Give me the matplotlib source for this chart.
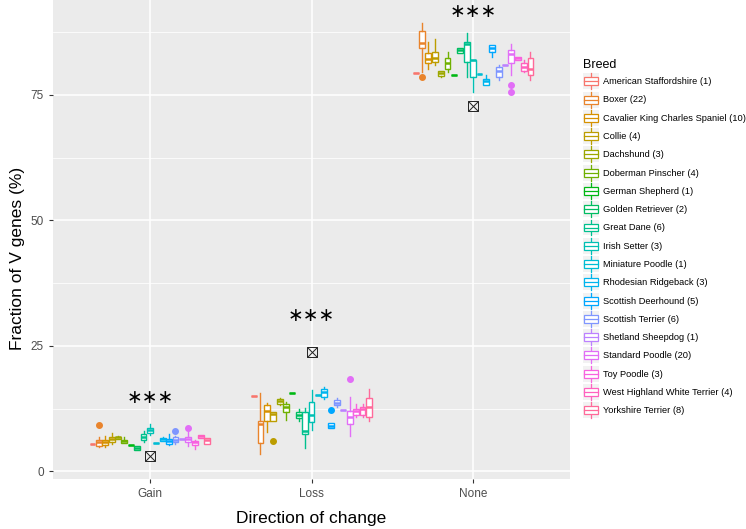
import numpy as np
import matplotlib
matplotlib.use("Agg")
import matplotlib.pyplot as plt
from matplotlib.patches import Patch, Rectangle
from matplotlib.lines import Line2D
from matplotlib.legend_handler import HandlerBase

plt.rcParams['font.family'] = ['Liberation Sans', 'DejaVu Sans']

# data
directions = ['Gain', 'Loss', 'None']
breeds = ['American Staffordshire (1)', 'Boxer (22)', 'Cavalier King Charles Spaniel (10)',
          'Collie (4)', 'Dachshund (3)', 'Doberman Pinscher (4)', 'German Shepherd (1)',
          'Golden Retriever (2)', 'Great Dane (6)', 'Irish Setter (3)', 'Miniature Poodle (1)',
          'Rhodesian Ridgeback (3)', 'Scottish Deerhound (5)', 'Scottish Terrier (6)',
          'Shetland Sheepdog (1)', 'Standard Poodle (20)', 'Toy Poodle (3)',
          'West Highland White Terrier (4)', 'Yorkshire Terrier (8)']

# (lower whisker, q1, median, q3, upper whisker) per breed
gain_stats = [(5.5, 5.5, 5.5, 5.5, 5.5), (4.9, 5.1, 5.9, 6.3, 6.8), (4.9, 5.3, 5.8, 6.3, 7.0),
              (5.5, 5.8, 6.5, 6.9, 7.6), (6.4, 6.5, 6.8, 6.9, 7.0), (5.6, 5.6, 6.0, 6.3, 6.9),
              (5.3, 5.3, 5.3, 5.3, 5.3), (4.3, 4.3, 4.6, 5.1, 5.1), (5.9, 6.3, 6.8, 7.4, 8.0),
              (7.2, 7.6, 8.2, 8.7, 9.4), (5.6, 5.6, 5.6, 5.6, 5.6), (6.1, 6.1, 6.4, 6.6, 6.8),
              (5.2, 5.5, 6.0, 6.4, 7.5), (5.4, 5.8, 6.3, 6.8, 7.0), (6.4, 6.4, 6.4, 6.4, 6.4),
              (5.0, 5.9, 6.5, 6.9, 7.8), (4.5, 5.3, 5.8, 6.1, 6.3), (6.6, 6.6, 7.0, 7.3, 7.3),
              (5.5, 5.5, 6.3, 6.6, 6.6)]
loss_stats = [(15.1, 15.1, 15.1, 15.1, 15.1), (3.5, 5.7, 9.4, 10.1, 15.6), (7.9, 10.1, 12.0, 13.2, 13.6),
              (10.1, 10.1, 11.5, 11.8, 11.8), (13.2, 13.4, 14.0, 14.4, 14.6), (10.3, 11.9, 12.9, 13.4, 13.9),
              (15.6, 15.6, 15.6, 15.6, 15.6), (10.1, 10.6, 11.2, 11.8, 12.5), (4.7, 7.4, 8.1, 11.8, 12.6),
              (8.3, 9.8, 11.3, 13.8, 16.2), (15.2, 15.2, 15.2, 15.2, 15.2), (14.4, 14.9, 15.8, 16.4, 16.8),
              (8.6, 8.6, 9.1, 9.7, 9.7), (12.8, 13.2, 13.7, 14.2, 14.6), (12.3, 12.3, 12.3, 12.3, 12.3),
              (7.1, 9.4, 10.9, 12.1, 14.8), (10.9, 11.3, 12.1, 12.5, 13.4), (10.9, 11.3, 12.4, 12.8, 13.4),
              (10.1, 10.9, 12.9, 14.7, 16.4)]
none_stats = [(79.3, 79.3, 79.3, 79.3, 79.3), (79.6, 84.3, 85.3, 87.8, 89.4), (80.2, 81.3, 82.2, 83.3, 85.5),
              (81.0, 81.6, 82.4, 83.6, 86.1), (78.5, 78.8, 79.4, 79.8, 79.8), (79.6, 80.1, 81.3, 82.3, 83.6),
              (79.0, 79.0, 79.0, 79.0, 79.0), (83.4, 83.4, 83.9, 84.3, 84.3), (78.5, 81.6, 85.1, 85.6, 87.3),
              (75.5, 78.5, 81.9, 82.0, 82.0), (79.2, 79.2, 79.2, 79.2, 79.2), (76.9, 76.9, 77.7, 78.2, 79.0),
              (82.6, 83.6, 84.3, 85.0, 85.0), (78.0, 78.6, 79.8, 80.6, 80.9), (81.0, 81.0, 81.0, 81.0, 81.0),
              (79.0, 81.3, 83.1, 84.0, 85.1), (82.0, 82.0, 82.3, 82.6, 82.6), (79.6, 79.8, 80.6, 81.3, 81.9),
              (78.0, 79.0, 80.2, 82.3, 83.5)]

# outliers: breed index -> values
gain_out = {1: [9.2], 13: [8.1], 15: [8.6]}
loss_out = {3: [6.0], 12: [12.2], 15: [18.4]}
none_out = {1: [78.6], 15: [76.9, 75.6]}

overall_marker = [3.1, 23.7, 72.8]   # crossed square per direction
star_y = [14.7, 31.0, 91.7]


def hue_colors(n, c=100, l=65):
    hues = np.linspace(15, 375, n + 1)[:n]
    Xn, Yn, Zn = 95.047, 100.0, 108.883
    un = 4 * Xn / (Xn + 15 * Yn + 3 * Zn)
    vn = 9 * Yn / (Xn + 15 * Yn + 3 * Zn)
    out = []
    for h in hues:
        U = c * np.cos(np.radians(h))
        V = c * np.sin(np.radians(h))
        Y = Yn * ((l + 16) / 116) ** 3
        u = U / (13 * l) + un
        v = V / (13 * l) + vn
        X = 9 * Y * u / (4 * v)
        Z = -X / 3 - 5 * Y + 3 * Y / v
        X, Y2, Z = X / 100, Y / 100, Z / 100
        rgb = np.array([3.240479 * X - 1.537150 * Y2 - 0.498535 * Z,
                        -0.969256 * X + 1.875992 * Y2 + 0.041556 * Z,
                        0.055648 * X - 0.204043 * Y2 + 1.057311 * Z])
        rgb = np.where(rgb <= 0.0031308, 12.92 * rgb, 1.055 * np.abs(rgb) ** (1 / 2.4) - 0.055)
        out.append(tuple(np.clip(rgb, 0, 1)))
    return out


colors = hue_colors(len(breeds))


class BoxKey(HandlerBase):
    def create_artists(self, legend, orig_handle, xdescent, ydescent, width, height, fontsize, trans):
        col = orig_handle.get_edgecolor()
        x0, y0 = -xdescent, -ydescent
        bg = Rectangle((x0, y0), width, height, fc='#F2F2F2', ec='none', transform=trans)
        wl = Line2D([x0 + width / 2] * 2, [y0, y0 + height], color=col, lw=0.9, transform=trans)
        box = Rectangle((x0 + width * 0.08, y0 + height * 0.25), width * 0.84, height * 0.5,
                        fc='white', ec=col, lw=0.9, transform=trans)
        med = Line2D([x0 + width * 0.08, x0 + width * 0.92], [y0 + height / 2] * 2,
                     color=col, lw=0.9, transform=trans)
        return [bg, wl, box, med]


fig = plt.figure(figsize=(7.46, 5.29), dpi=100)
ax = fig.add_axes([53 / 746, 1 - 478.5 / 529, (570 - 53) / 746, 478.5 / 529])
ax.set_facecolor('#EBEBEB')

n = len(breeds)
slot = 0.75 / n
all_stats = [gain_stats, loss_stats, none_stats]
all_out = [gain_out, loss_out, none_out]
cats = np.arange(1, len(directions) + 1)

for i, col in enumerate(colors):
    pos = cats - 0.375 + (i + 0.5) * slot
    bstats = []
    for k in range(len(directions)):
        lo, q1, med, q3, hi = all_stats[k][i]
        bstats.append(dict(whislo=lo, q1=q1, med=med, q3=q3, whishi=hi,
                           fliers=all_out[k].get(i, [])))
    ax.bxp(bstats, positions=pos, widths=slot * 0.92, patch_artist=True, showcaps=False,
           boxprops=dict(facecolor='white', edgecolor=col, lw=1.0),
           whiskerprops=dict(color=col, lw=1.0),
           medianprops=dict(color=col, lw=1.8, solid_capstyle='butt'),
           flierprops=dict(marker='o', markerfacecolor=col, markeredgecolor=col, markersize=4),
           manage_ticks=False, zorder=3)

ax.plot(cats, overall_marker, ls='none', marker='s', ms=6.5, mfc='none', mec='#222222', mew=0.7, zorder=4)
ax.plot(cats, overall_marker, ls='none', marker='x', ms=6.5, mec='#222222', mew=0.7, zorder=4)
for x, y in zip(cats, star_y):
    ax.text(x, y, '\u2217\u2217\u2217', ha='center', va='center', fontsize=13.5,
            family='DejaVu Sans', color='black', clip_on=False)

ax.set_xlim(0.4, 3.6)
ax.set_ylim(-1.4, 93.9)
ax.set_xticks(cats)
ax.set_xticklabels(directions)
ax.set_yticks([0, 25, 50, 75])
ax.set_yticks([12.5, 37.5, 62.5, 87.5], minor=True)
ax.grid(which='major', color='white', lw=1.1)
ax.grid(which='minor', axis='y', color='white', lw=0.55)
ax.tick_params(which='major', length=3, color='#333333', labelcolor='#4D4D4D', labelsize=8.5, width=0.8)
ax.tick_params(which='minor', length=0)
ax.set_axisbelow(True)
for s in ax.spines.values():
    s.set_visible(False)

ax.set_xlabel('Direction of change', fontsize=12.5, labelpad=8)
ax.set_ylabel('Fraction of V genes (%)', fontsize=12.5)
ax.yaxis.set_label_coords(-0.054, 0.46)

handles = [Patch(edgecolor=c, facecolor='white', label=b) for b, c in zip(breeds, colors)]
leg = fig.legend(handles=handles, title='Breed', loc='upper left',
                 bbox_to_anchor=(583 / 746, 1 - 59 / 529), frameon=False,
                 fontsize=6.7, title_fontsize=9, handlelength=1.72, handleheight=2.26,
                 labelspacing=0.25, handletextpad=0.4, borderaxespad=0, borderpad=0,
                 alignment='left', handler_map={Patch: BoxKey()})

fig.savefig('out.png', dpi=100)
